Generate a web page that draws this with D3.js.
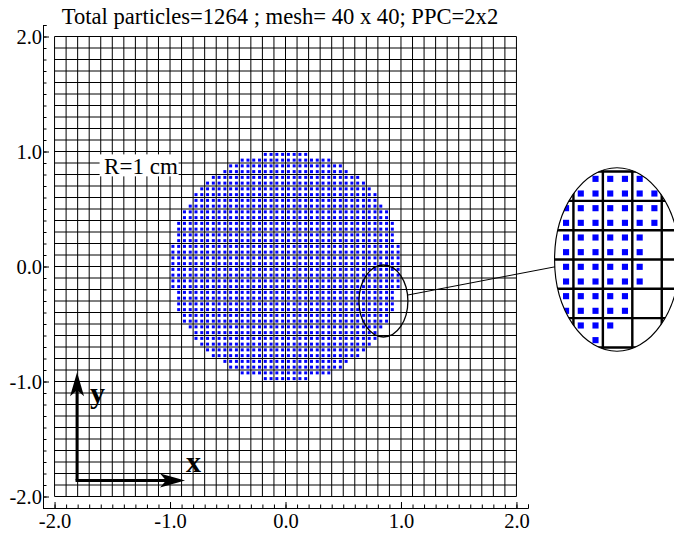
<!DOCTYPE html>
<html>
<head>
<meta charset="utf-8">
<script src="https://cdn.jsdelivr.net/npm/d3@7"></script>
<style>
  body { margin: 0; background: #fff; }
  text { font-family: "Liberation Serif", "Times New Roman", serif; }
</style>
</head>
<body>
<svg id="chart" width="674" height="533"></svg>
<script>
/* mesh / particle set-up (as in the title) */
const meshN = 40;           // 40 x 40 cells
const meshLo = -2, meshHi = 2;
const ppc = 2;              // particles per cell per direction
const radius = 1;           // R = 1 cm
// particles per half-row, for rows y = 0.025, 0.075, ... 0.975 (one quadrant)
const rowCounts = [20,20,20,20,19,19,19,19,18,18,17,16,16,15,14,13,11,10,8,4];

const majorTicks = [-2, -1, 0, 1, 2];
const titleText = "Total particles=1264 ; mesh= 40 x 40; PPC=2x2";

// zoom window (data units) and its magnified copy
const zoomCenter = [0.848, -0.30];
const zoomRadii = [0.212, 0.313];
const zoomFactor = 2.55;

/* helpers */
const cell = (meshHi - meshLo) / meshN;
const step = cell / ppc;

const svg = d3.select("#chart");
const x = d3.scaleLinear().domain([-2.1, 2.1]).range([43, 528]);
const y = d3.scaleLinear().domain([-2.1, 2.1]).range([508, 25]);

const gridVals = d3.range(meshN + 1).map(k => meshLo + k * cell);
const minorTicks = d3.range(43).map(k => -2.1 + k * 0.1);

// particle list from the quadrant counts
const particles = [];
rowCounts.forEach((n, j) => {
  const py = step / 2 + j * step;
  for (let i = 0; i < n; i++) {
    const px = step / 2 + i * step;
    [[1,1],[-1,1],[1,-1],[-1,-1]].forEach(s => particles.push([s[0]*px, s[1]*py]));
  }
});

function drawMesh(g, lw, size) {
  g.append("g").selectAll("line.v").data(gridVals).enter().append("line")
    .attr("x1", d => x(d)).attr("x2", d => x(d))
    .attr("y1", y(meshLo)).attr("y2", y(meshHi))
    .attr("stroke", "#000").attr("stroke-width", lw);
  g.append("g").selectAll("line.h").data(gridVals).enter().append("line")
    .attr("y1", d => y(d)).attr("y2", d => y(d))
    .attr("x1", x(meshLo)).attr("x2", x(meshHi))
    .attr("stroke", "#000").attr("stroke-width", lw);
  g.append("g").selectAll("rect").data(particles).enter().append("rect")
    .attr("x", d => x(d[0]) - size / 2)
    .attr("y", d => y(d[1]) - size / 2)
    .attr("width", size).attr("height", size)
    .attr("fill", "#0000ff");
}

drawMesh(svg.append("g"), 1, 3);

/* axes */
const fmt = d => d.toFixed(1);
svg.append("g").attr("transform", "translate(0,508)")
  .call(d3.axisBottom(x).tickValues(minorTicks).tickSizeInner(-3.5).tickSizeOuter(-3.5).tickFormat(""));
svg.append("g").attr("class", "xmaj").attr("transform", "translate(0,508)")
  .call(d3.axisBottom(x).tickValues(majorTicks).tickSize(-6).tickPadding(5).tickFormat(fmt))
  .call(g => g.select(".domain").remove());
svg.append("g").attr("transform", "translate(43,0)")
  .call(d3.axisLeft(y).tickValues(minorTicks).tickSizeInner(-3.5).tickSizeOuter(-3.5).tickFormat(""));
svg.append("g").attr("transform", "translate(43,0)")
  .call(d3.axisLeft(y).tickValues(majorTicks).tickSize(-6).tickPadding(1).tickFormat(fmt))
  .call(g => g.select(".domain").remove());
svg.selectAll(".tick text").attr("font-size", 20.5).attr("fill", "#000")
  .attr("font-family", "'Liberation Serif', 'Times New Roman', serif");
svg.selectAll(".tick line, .domain").attr("stroke", "#000");

/* title */
svg.append("text").attr("x", 280).attr("y", 24).attr("text-anchor", "middle")
  .attr("font-size", 22.6).text(titleText);

/* R label */
svg.append("rect").attr("x", x(-1.61)).attr("y", y(0.975)).attr("width", 79).attr("height", 22).attr("fill", "#fff");
svg.append("text").attr("x", x(-1.64) + 8).attr("y", y(0.805)).attr("font-size", 23).text("R=1 cm");

/* x / y direction arrows */
const origin = [-1.805, -1.86];
const yTip = -0.92, xTip = -0.87;
const ox = x(origin[0]), oy = y(origin[1]);
svg.append("line").attr("x1", ox).attr("y1", oy).attr("x2", ox).attr("y2", y(yTip) + 12)
  .attr("stroke", "#000").attr("stroke-width", 3);
svg.append("line").attr("x1", ox - 1.5).attr("y1", oy).attr("x2", x(xTip) - 12).attr("y2", oy)
  .attr("stroke", "#000").attr("stroke-width", 3);
const ty = y(yTip), tx = x(xTip);
svg.append("path").attr("d", `M${ox},${ty} L${ox - 7},${ty + 24} L${ox},${ty + 18} L${ox + 7},${ty + 24} Z`).attr("fill", "#000");
svg.append("path").attr("d", `M${tx},${oy} L${tx - 25},${oy - 7} L${tx - 19},${oy} L${tx - 25},${oy + 7} Z`).attr("fill", "#000");
svg.append("text").attr("x", ox + 13).attr("y", ty + 31).attr("font-size", 30).attr("font-weight", "bold").text("y");
svg.append("text").attr("x", tx + 1).attr("y", oy - 8).attr("font-size", 30).attr("font-weight", "bold").text("x");

/* zoom window + magnified copy */
const zcx = x(zoomCenter[0]), zcy = y(zoomCenter[1]);
const zrx = x(zoomCenter[0] + zoomRadii[0]) - zcx;
const zry = zcy - y(zoomCenter[1] + zoomRadii[1]);
const bigC = [617, 259.5];

svg.append("ellipse").attr("cx", zcx).attr("cy", zcy).attr("rx", zrx).attr("ry", zry)
  .attr("fill", "none").attr("stroke", "#000").attr("stroke-width", 1.3);
svg.append("line").attr("x1", zcx + zrx).attr("y1", zcy - 6)
  .attr("x2", bigC[0] - zrx * zoomFactor + 2).attr("y2", bigC[1] + 7)
  .attr("stroke", "#000").attr("stroke-width", 1);

svg.append("defs").append("clipPath").attr("id", "zclip")
  .append("ellipse").attr("cx", zcx).attr("cy", zcy).attr("rx", zrx).attr("ry", zry);
const mag = svg.append("g")
  .attr("transform", `translate(${bigC[0]},${bigC[1]}) scale(${zoomFactor}) translate(${-zcx},${-zcy})`);
const magIn = mag.append("g").attr("clip-path", "url(#zclip)");
magIn.append("ellipse").attr("cx", zcx).attr("cy", zcy).attr("rx", zrx).attr("ry", zry).attr("fill", "#fff");
drawMesh(magIn, 0.95, 2.4);
mag.append("ellipse").attr("cx", zcx).attr("cy", zcy).attr("rx", zrx).attr("ry", zry)
  .attr("fill", "none").attr("stroke", "#000").attr("stroke-width", 0.45);
</script>
</body>
</html>
